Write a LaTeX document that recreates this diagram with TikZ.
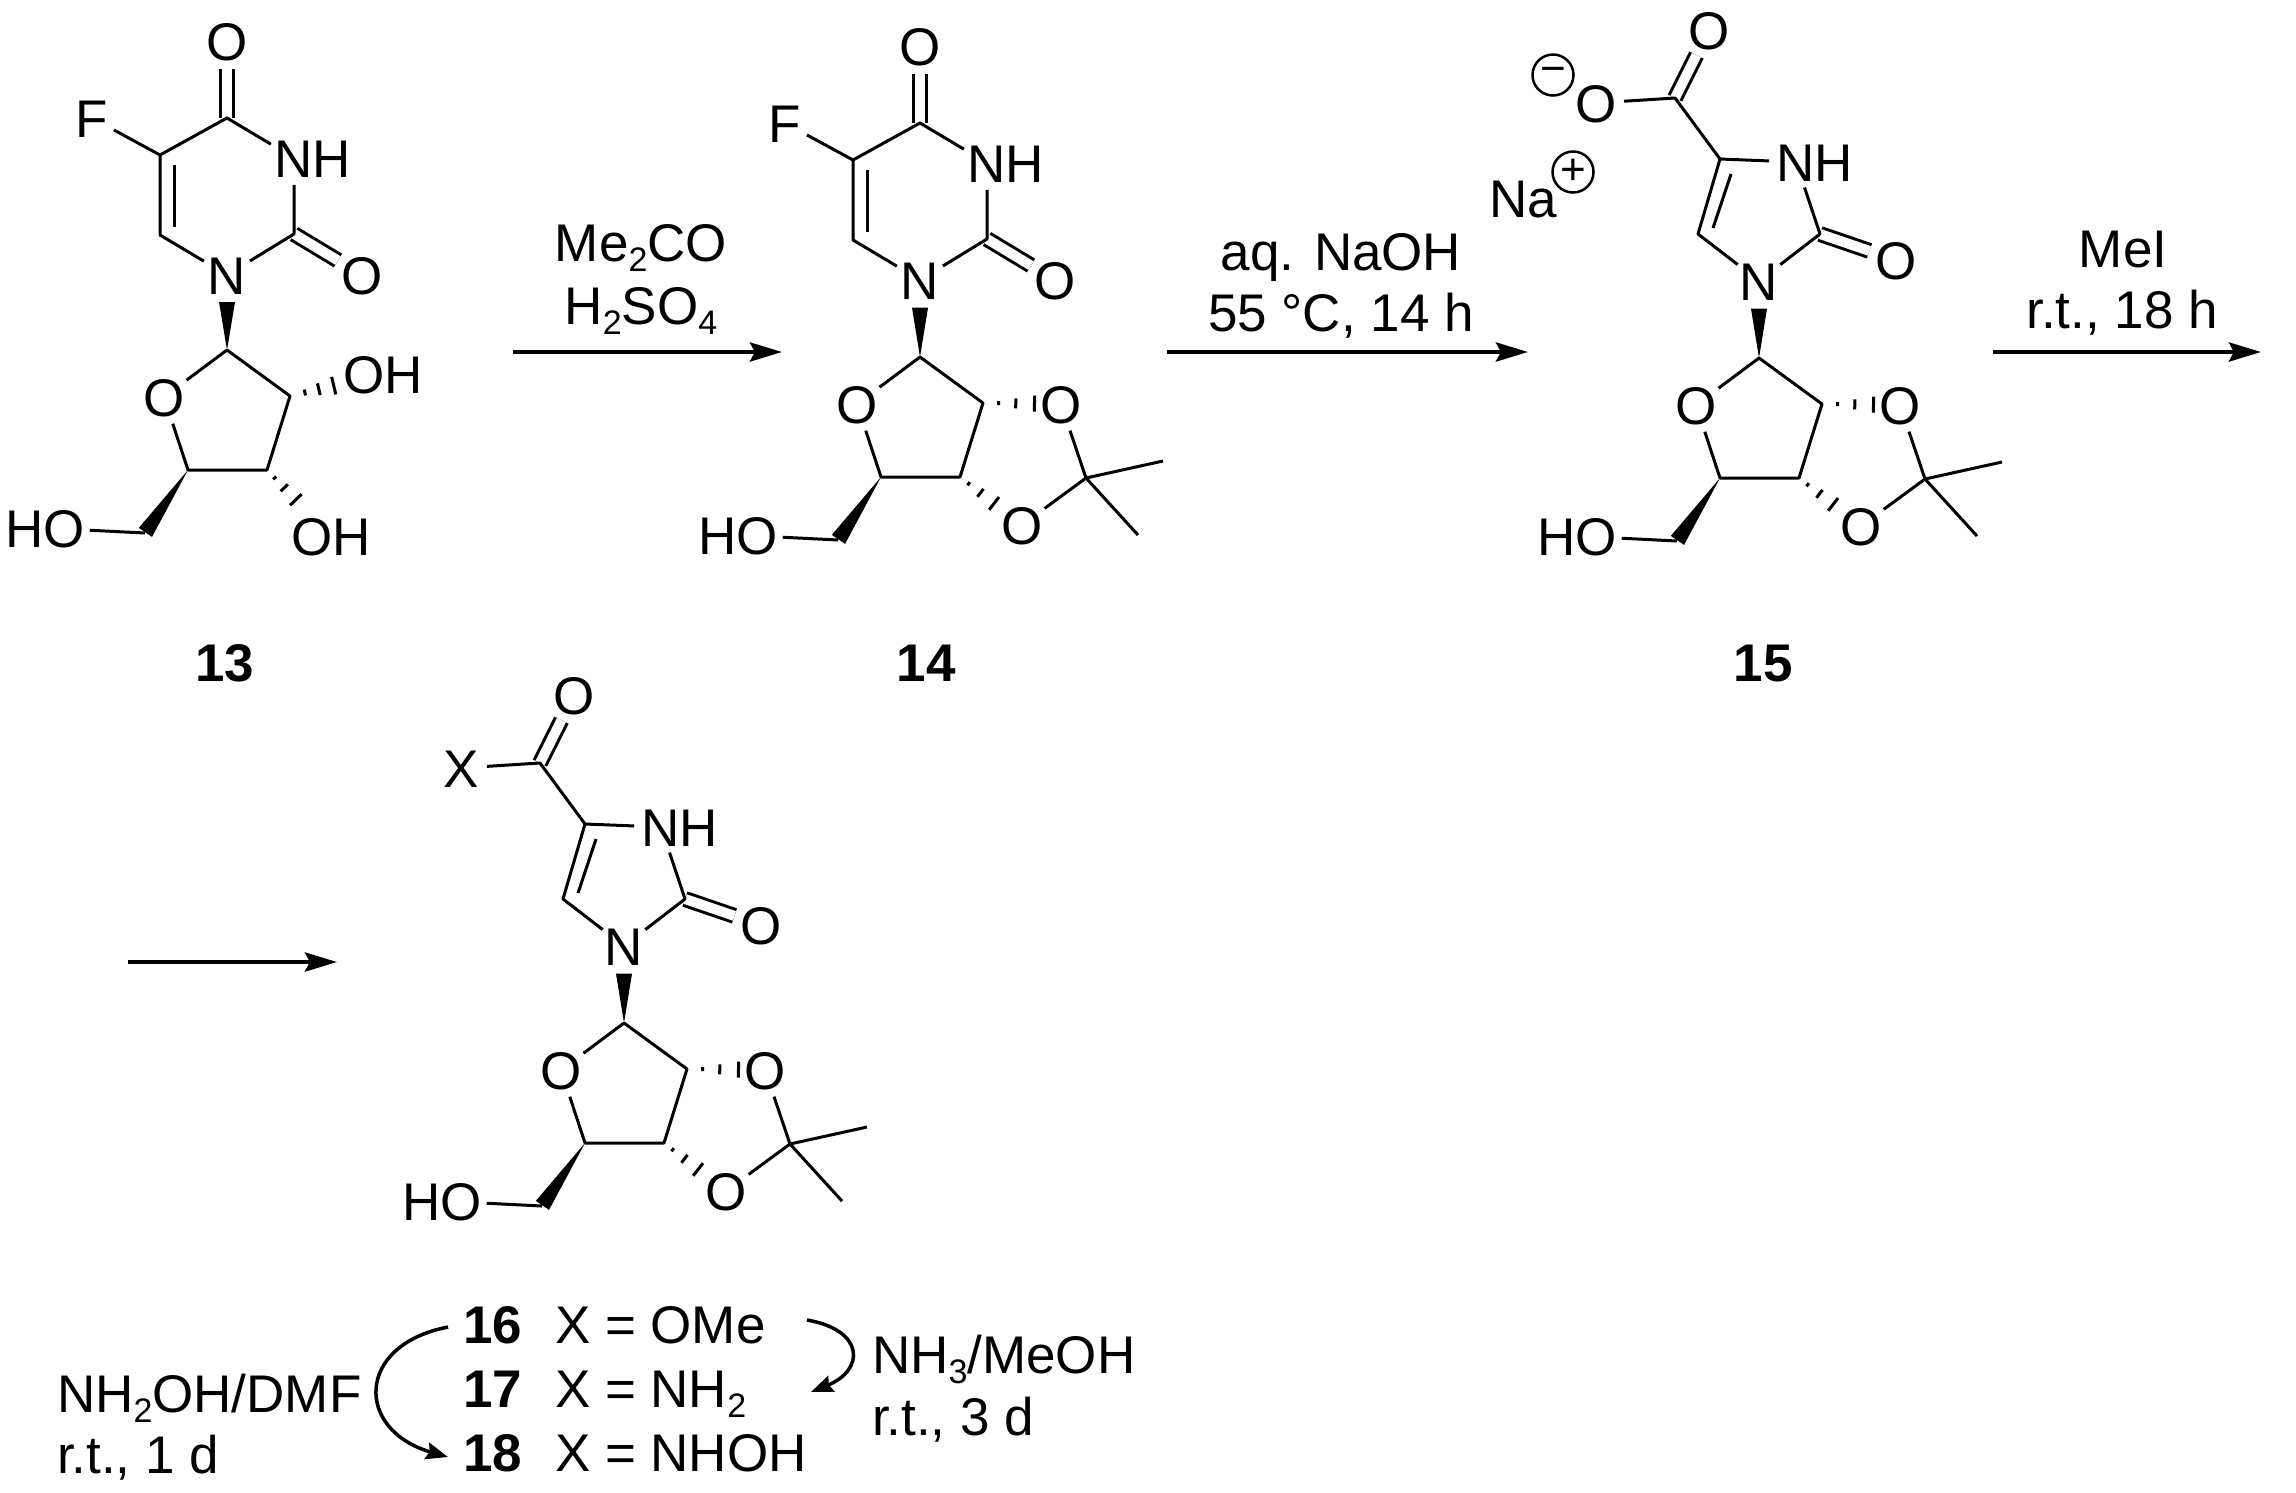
\documentclass[tikz,border=0pt]{standalone}
\usepackage{fontspec}
\setmainfont{Liberation Sans}
\usetikzlibrary{arrows.meta, calc}

\newcommand{\low}[1]{\raisebox{-10pt}{\fontsize{34}{34}\selectfont #1}}
\newcommand{\wedgebond}[3]{\fill (#1) -- ($(#1)!#3!(#2)!8pt!90:(#2)$) -- ($(#1)!#3!(#2)!8pt!-90:(#2)$) -- cycle;}
\newcommand{\hashbond}[3]{\foreach \t/\w in {#3} {
    \draw ($(#1)!\t!(#2)!\w pt!90:(#2)$) -- ($(#1)!\t!(#2)!\w pt!-90:(#2)$);
  }}

\tikzset{
  every node/.style={font=\fontsize{53}{60}\selectfont, inner sep=0pt, outer sep=0pt},
  atom/.style={circle, text height=38pt, text depth=0pt},
  group/.style={rectangle, text height=38pt, text depth=0pt, outer sep=5pt},
  cmpd/.style={anchor=base, font=\fontsize{53}{60}\selectfont\bfseries},
  reagent/.style={anchor=base},
  leftline/.style={anchor=base west},
  bond/.style={line width=3pt, line join=round},
  dbl/.style={line width=3pt, double, double distance=10pt},
  rxn/.style={line width=4.5pt, -{Stealth[length=32pt, width=19pt, inset=5pt]}},
  curly/.style={line width=3.5pt, -{Stealth[length=22pt, width=17pt, inset=3pt]}},
  charge/.style={circle, draw, line width=2.5pt, minimum size=41pt, font=\fontsize{44}{44}\selectfont},
  pics/furanose/.style={code={
      \coordinate (c1) at (0, 0);
      \coordinate (c2) at (63, 46);
      \coordinate (c3) at (40, 120);
      \coordinate (c4) at (-39, 120);
      \coordinate (c5) at (-82, 183);
      \node[atom] (o4) at (-63, 47) {O};
      \node[group] (ho) at (-182, 178) {HO};
      \draw[bond] (o4) -- (c1) -- (c2) -- (c3) -- (c4) -- (o4);
      \draw[bond] (c5) -- (ho);
      \wedgebond{c4}{c5}{.99}
    }},
  pics/acetonide/.style={code={
      \pic {furanose};
      \node[atom] (oa) at (141, 47) {O};
      \node[atom] (ob) at (102, 168) {O};
      \coordinate (cq) at (166, 121);
      \coordinate (me1) at (243, 104);
      \coordinate (me2) at (218, 178);
      \draw[bond] (oa) -- (cq) -- (ob);
      \draw[bond] (me1) -- (cq) -- (me2);
      \begin{scope}[bond]
        \hashbond{c2}{oa}{.2/2, .42/5, .66/8}
        \hashbond{c3}{ob}{.14/2, .33/5, .55/8}
      \end{scope}
    }},
  pics/uracil/.style={code={
      \node[atom] (n1) at (0, 0) {N};
      \coordinate (c2) at (67, -41);
      \node[atom] (o2) at (135, 0) {O};
      \node[atom] (n3) at (67, -117) {N};
      \node[atom] (h3) at (105, -117) {H};
      \coordinate (c4) at (0, -157);
      \node[atom] (o4) at (0, -234) {O};
      \coordinate (c5) at (-67, -120);
      \coordinate (c6) at (-67, -40);
      \node[atom] (f5) at (-135, -157) {F};
      \draw[dbl] (c2) -- (o2);
      \draw[dbl] (c4) -- (o4);
      \draw[bond] (n1) -- (c2) -- (n3) -- (c4) -- (c5) -- (c6) -- (n1);
      \draw[bond] (c5) -- (f5);
      \draw[bond] (-53, -110) -- (-53, -48);
    }},
  pics/imidazolone/.style={code={
      \node[atom] (n1) at (0, 0) {N};
      \coordinate (c2) at (61, -47);
      \node[atom] (o2) at (137, -21) {O};
      \node[atom] (n3) at (37, -119) {N};
      \node[atom] (h3) at (75, -119) {H};
      \coordinate (c4) at (-39, -122);
      \coordinate (c5) at (-61, -47);
      \coordinate (cc) at (-84, -183);
      \node[atom] (oc) at (-50, -251) {O};
      \node[atom] (sub) at (-163, -178) {#1};
      \draw[dbl] (c2) -- (o2);
      \draw[dbl] (cc) -- (oc);
      \draw[bond] (n1) -- (c2) -- (n3) -- (c4) -- (c5) -- (n1);
      \draw[bond] (sub) -- (cc) -- (c4);
      \draw[bond] (-28, -107) -- (-46, -53);
    }},
}

\begin{document}
\begin{tikzpicture}[x=1pt, y=-1pt]
  \useasboundingbox (0, 0) rectangle (2296, 1492);

  % 13
  \pic (u13) at (227, 275) {uracil};
  \pic (s13) at (227, 350) {furanose};
  \wedgebond{s13c1}{u13n1}{.64}
  \node[group] (s13oh2) at (383, 374) {OH};
  \node[group] (s13oh3) at (331, 536) {OH};
  \begin{scope}[bond]
    \hashbond{s13c2}{s13oh2}{.16/3, .31/6, .47/9}
    \hashbond{s13c3}{s13oh3}{.12/2, .27/5, .45/8}
  \end{scope}
  \node[cmpd] (l13) at (225, 681) {13};

  % 14
  \pic (u14) at (920, 280) {uracil};
  \pic (s14) at (920, 357) {acetonide};
  \wedgebond{s14c1}{u14n1}{.64}
  \node[cmpd] (l14) at (926, 681) {14};

  % 15
  \pic (i15) at (1759, 281) {imidazolone=O};
  \pic (s15) at (1759, 358) {acetonide};
  \wedgebond{s15c1}{i15n1}{.64}
  \node[charge] (minus) at (1553, 75) {−};
  \node[group] (na) at (1523, 198) {Na};
  \node[charge] (plus) at (1573, 172) {+};
  \node[cmpd] (l15) at (1763, 681) {15};

  % 16 to 18
  \pic (i16) at (624, 946) {imidazolone=X};
  \pic (s16) at (624, 1023) {acetonide};
  \wedgebond{s16c1}{i16n1}{.64}

  % arrows
  \coordinate (a1s) at (513, 352);
  \coordinate (a1e) at (782, 352);
  \coordinate (a2s) at (1167, 352);
  \coordinate (a2e) at (1528, 352);
  \coordinate (a3s) at (1993, 352);
  \coordinate (a3e) at (2261, 352);
  \coordinate (a4s) at (128, 962);
  \coordinate (a4e) at (337, 962);
  \foreach \s/\e in {a1s/a1e, a2s/a2e, a3s/a3e, a4s/a4e} {
    \draw[rxn] (\s) -- (\e);
  }
  \node[reagent] (r1a) at (641, 261) {Me\low{2}CO};
  \node[reagent] (r1b) at (641, 324) {H\low{2}SO\low{4}};
  \node[reagent] (r2a) at (1341, 270) {aq. NaOH};
  \node[reagent] (r2b) at (1341, 331) {55 °C, 14 h};
  \node[reagent] (r3a) at (2123, 267) {MeI};
  \node[reagent] (r3b) at (2122, 328) {r.t., 18 h};

  % table of X
  \node[cmpd] (l16) at (493, 1343) {16};
  \node[cmpd] (l17) at (493, 1407) {17};
  \node[cmpd] (l18) at (493, 1471) {18};
  \node[leftline] (x16) at (555, 1343) {X = OMe};
  \node[leftline] (x17) at (555, 1407) {X = NH\low{2}};
  \node[leftline] (x18) at (555, 1471) {X = NHOH};
  \node[leftline] (r4a) at (57, 1412) {NH\low{2}OH/DMF};
  \node[leftline] (r4b) at (57, 1473) {r.t., 1 d};
  \node[leftline] (r5a) at (872, 1373) {NH\low{3}/MeOH};
  \node[leftline] (r5b) at (872, 1435) {r.t., 3 d};
  \coordinate (c1s) at (448, 1327);
  \coordinate (c1e) at (448, 1457);
  \coordinate (c2s) at (807, 1320);
  \coordinate (c2e) at (811, 1392);
  \draw[curly] (c1s) .. controls (355, 1345) and (355, 1430) .. (c1e);
  \draw[curly] (c2s) .. controls (865, 1330) and (865, 1370) .. (c2e);
\end{tikzpicture}
\end{document}
